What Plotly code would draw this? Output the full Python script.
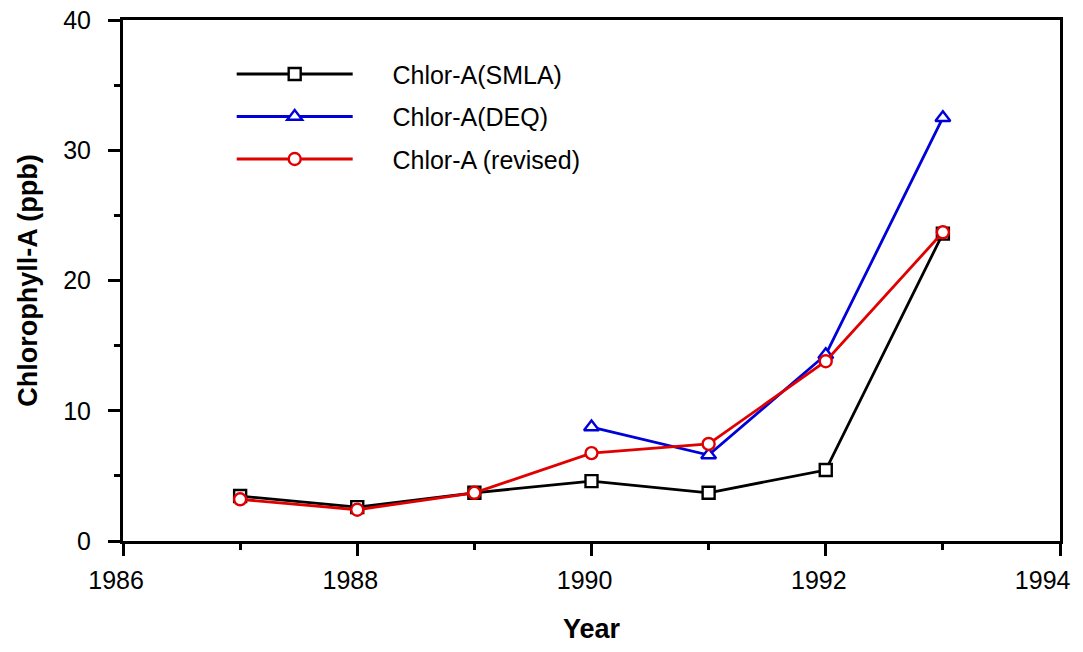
import plotly.graph_objects as go

years = [1987, 1988, 1989, 1990, 1991, 1992, 1993]
smla = [3.45, 2.6, 3.7, 4.6, 3.7, 5.45, 23.6]
deq_years = [1990, 1991, 1992, 1993]
deq = [8.75, 6.6, 14.3, 32.5]
revised = [3.2, 2.4, 3.7, 6.75, 7.45, 13.8, 23.7]
names = ["Chlor-A(SMLA)", "Chlor-A(DEQ)", "Chlor-A (revised)"]
x_tickvals = [1986, 1988, 1990, 1992, 1994]
x_ticklabels = ["1986", "1988", "1990", "1992", "1994"]

FONT = "Liberation Sans"
PAD = "\u00a0" * 5
NB = "\u00a0"
# labels sit slightly left of their ticks; the last one is pulled in to stay on the page
x_ticktext = [t + NB * 2 for t in x_ticklabels[:-1]] + [x_ticklabels[-1] + NB * 5]

fig = go.Figure()
fig.add_trace(go.Scatter(x=years, y=smla, name=PAD + names[0], mode="lines+markers",
                         legendgroup="a",
                         line=dict(color="black", width=2.8),
                         marker=dict(symbol="square", size=12, color="white",
                                     line=dict(color="black", width=2.4))))
fig.add_trace(go.Scatter(x=deq_years, y=deq, name=PAD + names[1], mode="lines+markers",
                         legendgroup="b",
                         line=dict(color="#0000d8", width=2.8),
                         marker=dict(symbol="triangle-up", size=13, color="white",
                                     line=dict(color="#0000d8", width=2.4))))
fig.add_trace(go.Scatter(x=years, y=revised, name=PAD + names[2], mode="lines+markers",
                         legendgroup="c",
                         line=dict(color="#e00000", width=2.8),
                         marker=dict(symbol="circle", size=12, color="white",
                                     line=dict(color="#e00000", width=2.4))))

# page has an 8px body margin, so the figure is 16px smaller than the window
fig.update_layout(
    width=1067, height=636,
    margin=dict(l=115, r=15, t=12, b=103),
    paper_bgcolor="white", plot_bgcolor="white",
    font=dict(family=FONT, size=25, color="black"),
    showlegend=True,
    legend=dict(x=0.116, y=0.940, xanchor="left", yanchor="top",
                bgcolor="rgba(0,0,0,0)", font=dict(size=25, family=FONT),
                tracegroupgap=7, itemwidth=116),
    xaxis=dict(range=[1986, 1994], tickmode="array", tickvals=x_tickvals,
               ticktext=x_ticktext,
               ticks="outside", ticklen=12, tickwidth=2.5, tickcolor="black",
               showline=True, linewidth=3, linecolor="black", mirror=True,
               showgrid=False, zeroline=False, ticklabelstandoff=3,
               ticklabeloverflow="allow", automargin=False,
               tickfont=dict(size=25, family=FONT),
               minor=dict(dtick=1, tick0=1986, ticks="outside", ticklen=6, tickwidth=2.5, tickcolor="black", showgrid=False),
               title=dict(text="<b>Year</b>", font=dict(size=27, family=FONT), standoff=30)),
    yaxis=dict(range=[0, 40], tickmode="linear", tick0=0, dtick=10,
               ticks="outside", ticklen=12, tickwidth=2.5, tickcolor="black",
               showline=True, linewidth=3, linecolor="black", mirror=True,
               showgrid=False, zeroline=False, ticklabelstandoff=12,
               ticklabeloverflow="allow", automargin=False,
               tickfont=dict(size=25, family=FONT),
               minor=dict(dtick=5, ticks="outside", ticklen=6, tickwidth=2.5, tickcolor="black", showgrid=False),
               title=dict(text="<b>Chlorophyll-A (ppb)</b>", font=dict(size=27, family=FONT), standoff=18)),
)

fig.write_html("out.html")
